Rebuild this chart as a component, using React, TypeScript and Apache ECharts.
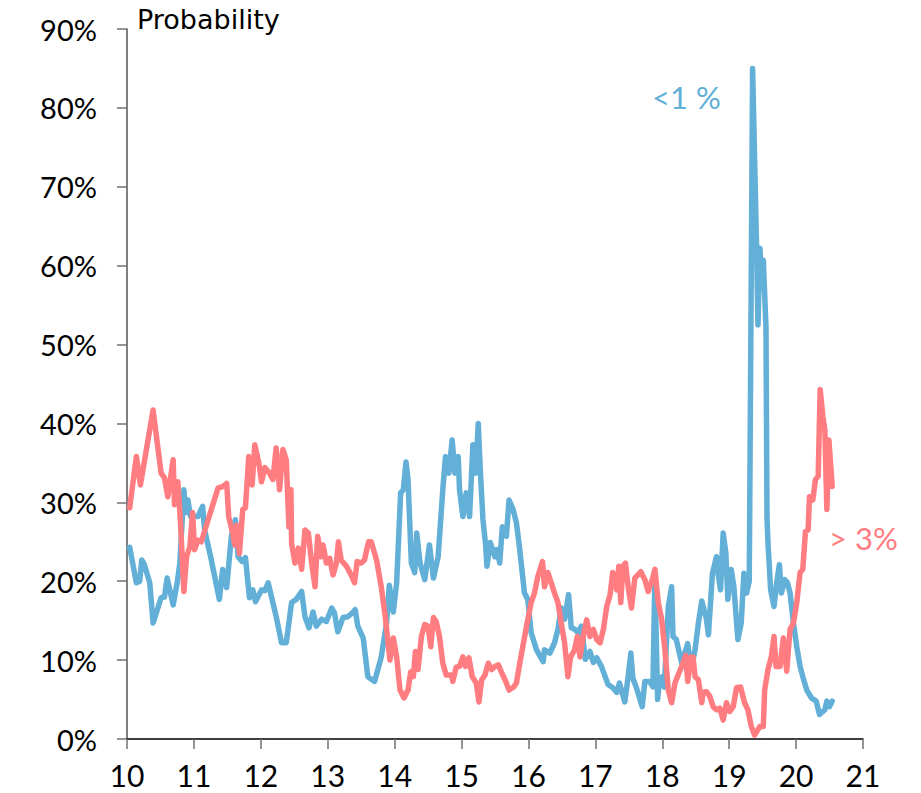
import React, { useEffect, useRef } from "react";
import * as echarts from "echarts";

// Probability that inflation is below 1% (blue) — [year, %]
const below1: [number, number][] = [
  [10.04, 24.3], [10.14, 19.8], [10.19, 20.0], [10.22, 22.7], [10.26, 22.1], [10.34, 19.8], [10.39, 14.7],
  [10.51, 17.9], [10.56, 18.0], [10.6, 20.4], [10.69, 17.0], [10.75, 19.8], [10.79, 22.3], [10.85, 31.6],
  [10.88, 28.7], [10.91, 30.3], [10.95, 28.2], [11.06, 28.2], [11.13, 29.5], [11.16, 26.5], [11.26, 22.7],
  [11.38, 17.7], [11.43, 21.5], [11.49, 19.2], [11.56, 25.7], [11.62, 27.8], [11.66, 23.1], [11.72, 22.5],
  [11.77, 23.0], [11.83, 17.9], [11.88, 18.9], [11.92, 17.4], [12.01, 18.9], [12.06, 18.8], [12.11, 19.8],
  [12.16, 18.0], [12.23, 15.5], [12.31, 12.2], [12.38, 12.2], [12.46, 17.3], [12.53, 17.7], [12.61, 18.7],
  [12.66, 15.5], [12.72, 14.1], [12.78, 16.1], [12.83, 14.3], [12.91, 15.2], [12.98, 14.9], [13.06, 16.6],
  [13.1, 16.0], [13.15, 13.6], [13.23, 15.4], [13.3, 15.5], [13.38, 16.1], [13.41, 16.4], [13.45, 14.3],
  [13.53, 12.8], [13.6, 7.9], [13.7, 7.3], [13.8, 10.4], [13.88, 14.7], [13.92, 19.5], [13.98, 16.1],
  [14.03, 19.8], [14.09, 31.2], [14.13, 31.6], [14.17, 35.1], [14.2, 32.9], [14.25, 22.3], [14.3, 21.1],
  [14.33, 26.1], [14.38, 22.3], [14.45, 20.2], [14.52, 24.6], [14.58, 20.4], [14.65, 23.1], [14.72, 31.6],
  [14.76, 35.8], [14.81, 33.7], [14.86, 37.9], [14.9, 33.7], [14.95, 35.8], [14.97, 31.6], [15.02, 28.2],
  [15.07, 31.2], [15.12, 28.2], [15.17, 37.3], [15.21, 33.7], [15.25, 40.0], [15.28, 34.1], [15.32, 27.8],
  [15.36, 24.6], [15.38, 21.9], [15.43, 24.9], [15.5, 23.1], [15.53, 24.0], [15.57, 22.3], [15.61, 26.9],
  [15.67, 25.7], [15.71, 30.3], [15.77, 29.1], [15.82, 27.4], [15.87, 24.0], [15.94, 18.5], [15.99, 17.7],
  [16.04, 13.5], [16.12, 11.3], [16.22, 9.8], [16.24, 11.3], [16.32, 10.9], [16.39, 12.2], [16.44, 13.9],
  [16.49, 16.6], [16.54, 15.2], [16.6, 18.3], [16.64, 14.1], [16.69, 13.9], [16.74, 13.5], [16.79, 14.3],
  [16.85, 10.1], [16.92, 11.1], [16.97, 9.7], [17.02, 10.3], [17.09, 9.2], [17.19, 6.9], [17.26, 6.5],
  [17.32, 5.9], [17.36, 7.1], [17.44, 4.7], [17.49, 7.9], [17.53, 10.9], [17.56, 7.7], [17.61, 6.6],
  [17.7, 4.1], [17.74, 7.3], [17.81, 7.3], [17.86, 6.6], [17.89, 20.6], [17.93, 5.0], [17.96, 7.5],
  [18.0, 7.9], [18.03, 6.6], [18.09, 16.8], [18.14, 19.3], [18.16, 13.0], [18.21, 12.6], [18.29, 9.6],
  [18.38, 12.1], [18.43, 8.8], [18.49, 11.3], [18.54, 14.7], [18.59, 17.5], [18.66, 15.2], [18.69, 13.2],
  [18.75, 21.0], [18.81, 23.1], [18.83, 21.2], [18.87, 18.9], [18.91, 26.1], [18.95, 23.6], [18.98, 17.7],
  [19.03, 21.5], [19.07, 19.3], [19.13, 12.6], [19.18, 14.7], [19.22, 21.0], [19.26, 18.5], [19.3, 20.0],
  [19.35, 85.0], [19.41, 62.2], [19.43, 52.5], [19.46, 62.2], [19.48, 58.9], [19.51, 60.7], [19.55, 52.2],
  [19.565, 28.2], [19.58, 24.8], [19.62, 18.9], [19.67, 16.8], [19.71, 19.8], [19.75, 22.1], [19.78, 18.5],
  [19.83, 20.2], [19.87, 19.8], [19.91, 18.5], [19.96, 14.7], [20.01, 11.7], [20.06, 9.2], [20.1, 7.9],
  [20.16, 6.2], [20.23, 5.2], [20.3, 4.8], [20.35, 3.1], [20.43, 3.7], [20.46, 4.8], [20.5, 4.1], [20.54, 4.8],
];

// Probability that inflation is above 3% (red) — [year, %]
const above3: [number, number][] = [
  [10.04, 29.3], [10.14, 35.8], [10.2, 32.2], [10.39, 41.7], [10.51, 33.7], [10.56, 33.1], [10.61, 30.7],
  [10.69, 35.4], [10.71, 29.7], [10.76, 32.6], [10.8, 27.4], [10.85, 18.7], [10.89, 23.1], [10.94, 24.4],
  [10.98, 28.7], [11.01, 24.0], [11.06, 25.2], [11.11, 25.0], [11.36, 31.8], [11.43, 32.0], [11.49, 32.4],
  [11.52, 28.2], [11.58, 26.1], [11.61, 24.6], [11.64, 27.1], [11.68, 23.5], [11.73, 29.1], [11.77, 29.3],
  [11.82, 35.8], [11.87, 32.2], [11.91, 37.3], [11.97, 35.0], [12.01, 32.6], [12.06, 34.4], [12.13, 33.7],
  [12.18, 32.9], [12.23, 36.9], [12.28, 31.6], [12.33, 36.7], [12.38, 35.4], [12.42, 26.9], [12.45, 31.6],
  [12.46, 24.8], [12.51, 22.3], [12.56, 24.2], [12.61, 21.5], [12.66, 26.5], [12.71, 26.1], [12.76, 22.3],
  [12.81, 19.3], [12.85, 25.7], [12.9, 23.1], [12.93, 24.6], [12.98, 22.3], [13.03, 22.9], [13.08, 20.8],
  [13.13, 22.3], [13.16, 25.0], [13.2, 22.7], [13.28, 21.9], [13.35, 20.8], [13.4, 19.8], [13.44, 22.5],
  [13.5, 22.3], [13.55, 22.7], [13.61, 25.0], [13.65, 25.0], [13.73, 22.7], [13.8, 19.3], [13.86, 15.5],
  [13.93, 10.0], [13.98, 12.8], [14.03, 10.4], [14.08, 6.2], [14.14, 5.2], [14.2, 6.2], [14.24, 8.5],
  [14.28, 7.9], [14.31, 11.1], [14.35, 8.8], [14.4, 13.0], [14.45, 14.5], [14.5, 14.3], [14.54, 11.7],
  [14.58, 15.4], [14.62, 14.9], [14.67, 13.0], [14.72, 9.6], [14.77, 8.1], [14.85, 8.1], [14.87, 7.3],
  [14.92, 9.1], [14.97, 9.2], [15.02, 10.4], [15.06, 9.2], [15.11, 10.3], [15.16, 7.9], [15.22, 7.1],
  [15.26, 4.7], [15.3, 7.5], [15.35, 8.1], [15.4, 9.6], [15.45, 8.8], [15.5, 9.2], [15.55, 9.4],
  [15.6, 8.4], [15.65, 7.5], [15.71, 6.2], [15.78, 6.6], [15.82, 7.1], [15.87, 9.6], [15.92, 11.9],
  [15.98, 14.7], [16.04, 17.3], [16.09, 18.5], [16.14, 20.6], [16.21, 22.5], [16.24, 19.3], [16.29, 21.1],
  [16.34, 19.8], [16.39, 18.5], [16.44, 17.3], [16.49, 14.7], [16.54, 12.2], [16.59, 7.9], [16.63, 10.4],
  [16.69, 11.3], [16.73, 13.0], [16.77, 10.4], [16.82, 13.0], [16.87, 15.1], [16.92, 13.0], [16.97, 13.9],
  [17.02, 12.6], [17.07, 12.2], [17.12, 13.9], [17.17, 16.8], [17.22, 18.3], [17.26, 21.1], [17.32, 18.9],
  [17.35, 21.9], [17.38, 17.3], [17.41, 21.9], [17.45, 22.3], [17.49, 19.3], [17.54, 16.6], [17.59, 20.4],
  [17.68, 21.2], [17.74, 20.2], [17.79, 18.7], [17.85, 20.2], [17.89, 21.5], [17.94, 17.3], [17.99, 15.2],
  [18.04, 11.3], [18.09, 6.2], [18.14, 4.6], [18.19, 7.1], [18.25, 8.4], [18.31, 9.6], [18.35, 10.6],
  [18.38, 7.3], [18.43, 10.4], [18.46, 10.4], [18.49, 7.9], [18.54, 7.5], [18.59, 4.6], [18.61, 5.9],
  [18.66, 6.0], [18.71, 5.4], [18.76, 4.1], [18.81, 3.7], [18.86, 3.9], [18.91, 2.4], [18.96, 4.6],
  [19.01, 3.5], [19.06, 4.1], [19.11, 6.5], [19.17, 6.6], [19.23, 4.6], [19.28, 3.7], [19.33, 1.6],
  [19.38, 0.5], [19.46, 1.6], [19.51, 1.6], [19.53, 6.2], [19.58, 8.8], [19.63, 10.4], [19.67, 13.0],
  [19.7, 9.2], [19.76, 9.2], [19.81, 12.8], [19.86, 8.6], [19.91, 13.9], [19.96, 14.7], [20.01, 17.3],
  [20.06, 21.1], [20.1, 21.5], [20.14, 26.3], [20.18, 26.5], [20.2, 30.7], [20.25, 30.3], [20.29, 32.9],
  [20.33, 33.3], [20.36, 44.3], [20.4, 40.9], [20.43, 39.2], [20.46, 29.1], [20.49, 37.9], [20.54, 32.0],
];

const xTicks = { min: 10, max: 21, step: 1 };
const yTicks = { min: 0, max: 90, step: 10 };
const yTitle = "Probability";
const labelBelow = "<1 %";
const labelAbove = "> 3%";

const BLUE = "#62AFD7";
const RED = "#FF7C80";
const FONT = "Lato, 'Open Sans', sans-serif";

export default function App() {
  const ref = useRef<HTMLDivElement>(null);
  useEffect(() => {
    if (!ref.current) return;
    const chart = echarts.init(ref.current, null, { renderer: "svg" });
    chart.setOption({
      animation: false,
      backgroundColor: "#ffffff",
      textStyle: { fontFamily: FONT },
      grid: { left: 127, right: 58, top: 29, bottom: 54, containLabel: false, outerBoundsMode: "none" },
      xAxis: {
        type: "value",
        min: xTicks.min,
        max: xTicks.max,
        interval: xTicks.step,
        axisLine: { lineStyle: { color: "#000000", width: 1.5 } },
        axisTick: { show: true, length: 10, lineStyle: { color: "#707070", width: 1.5 } },
        axisLabel: { color: "#000", fontSize: 30, fontFamily: FONT, margin: 21 },
        splitLine: { show: false },
      },
      yAxis: {
        type: "value",
        min: yTicks.min,
        max: yTicks.max,
        interval: yTicks.step,
        axisLine: { show: true, lineStyle: { color: "#555555", width: 1.5 } },
        axisTick: { show: true, length: 10, lineStyle: { color: "#707070", width: 1.5 } },
        axisLabel: { color: "#000", fontSize: 29, fontFamily: FONT, margin: 30, formatter: "{value}%" },
        splitLine: { show: false },
      },
      series: [
        {
          name: labelBelow,
          type: "line",
          data: below1,
          showSymbol: false,
          symbol: "none",
          lineStyle: { color: BLUE, width: 5.5, join: "round", cap: "round" },
          itemStyle: { color: BLUE },
        },
        {
          name: labelAbove,
          type: "line",
          data: above3,
          showSymbol: false,
          symbol: "none",
          lineStyle: { color: RED, width: 5.5, join: "round", cap: "round" },
          itemStyle: { color: RED },
        },
      ],
      graphic: [
        {
          type: "text",
          left: 137,
          top: 6,
          style: { text: yTitle, fontSize: 27, fontFamily: "'DejaVu Sans', sans-serif", fill: "#000" },
        },
        {
          type: "text",
          left: 652,
          top: 81,
          style: { text: labelBelow, fontSize: 31, fontFamily: FONT, fill: BLUE },
        },
        {
          type: "text",
          left: 829,
          top: 522,
          style: { text: labelAbove, fontSize: 31, fontFamily: FONT, fill: RED },
        },
      ],
    });
    return () => chart.dispose();
  }, []);
  return (
    <div
      ref={ref}
      style={{ position: "fixed", left: 0, top: 0, width: 921, height: 793, background: "#fff" }}
    />
  );
}
